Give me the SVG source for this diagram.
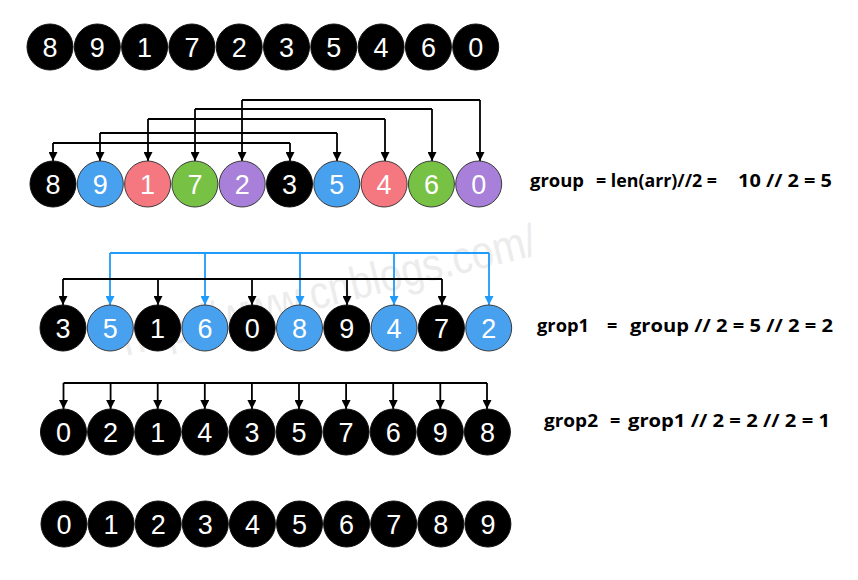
<svg xmlns="http://www.w3.org/2000/svg" width="858" height="580" viewBox="0 0 858 580">
<defs>
<style>
.bk{fill:#000;stroke:#111;stroke-width:1}
.bl{fill:#48a1ee;stroke:#3a3a3a;stroke-width:1}
.pk{fill:#f5777f;stroke:#3a3a3a;stroke-width:1}
.gr{fill:#77c144;stroke:#3a3a3a;stroke-width:1}
.pu{fill:#a87fd9;stroke:#3a3a3a;stroke-width:1}
.n{font-family:"Liberation Sans",Arial,sans-serif;font-size:27px;fill:#fff;text-anchor:middle}
.c{fill:none;stroke:#000;stroke-width:1.8}
.cb{fill:none;stroke:#1f9bfc;stroke-width:1.8}
.ah{marker-end:url(#a)}
.ahb{marker-end:url(#ab)}
.lbl{font-family:"Open Sans","Noto Sans","Liberation Sans",sans-serif;font-weight:bold;font-size:18px;fill:#000}
.wm{font-family:"Liberation Sans",Arial,sans-serif;font-size:46px;fill:#ececec}
</style>
<marker id="a" viewBox="0 0 10 10" refX="10" refY="5" markerWidth="10" markerHeight="9" markerUnits="userSpaceOnUse" orient="auto"><path d="M0,0 L10,5 L0,10 z" fill="#000"/></marker>
<marker id="ab" viewBox="0 0 10 10" refX="10" refY="5" markerWidth="10" markerHeight="9" markerUnits="userSpaceOnUse" orient="auto"><path d="M0,0 L10,5 L0,10 z" fill="#1f9bfc"/></marker>
</defs>
<rect width="858" height="580" fill="#fff"/>
<text class="wm" x="126" y="356" transform="rotate(-13.8 126 356)" textLength="425" lengthAdjust="spacingAndGlyphs">http://www.cnblogs.com/</text>

<g id="connectors">
<path class="c" d="M53,143 H290"/>
<path class="c ah" d="M53,143 V161"/><path class="c ah" d="M290,143 V161"/>
<path class="c" d="M100,133 H337"/>
<path class="c ah" d="M100,133 V161"/><path class="c ah" d="M337,133 V161"/>
<path class="c" d="M148,119 H385"/>
<path class="c ah" d="M148,119 V161"/><path class="c ah" d="M385,119 V161"/>
<path class="c" d="M195,109 H432"/>
<path class="c ah" d="M195,109 V161"/><path class="c ah" d="M432,109 V161"/>
<path class="c" d="M242,100 H480"/>
<path class="c ah" d="M242,100 V161"/><path class="c ah" d="M480,100 V161"/>

<path class="cb" d="M110,253 H489"/>
<path class="cb ahb" d="M110,253 V305"/><path class="cb ahb" d="M205,253 V305"/><path class="cb ahb" d="M300,253 V305"/><path class="cb ahb" d="M394,253 V305"/><path class="cb ahb" d="M489,253 V305"/>
<path class="c" d="M63,279 H442"/>
<path class="c ah" d="M63,279 V305"/><path class="c ah" d="M158,279 V305"/><path class="c ah" d="M252,279 V305"/><path class="c ah" d="M347,279 V305"/><path class="c ah" d="M442,279 V305"/>

<path class="c" d="M63.5,383 H487"/>
<path class="c ah" d="M63.5,383 V409"/><path class="c ah" d="M110.6,383 V409"/><path class="c ah" d="M157.7,383 V409"/><path class="c ah" d="M204.8,383 V409"/><path class="c ah" d="M251.9,383 V409"/><path class="c ah" d="M299,383 V409"/><path class="c ah" d="M346.1,383 V409"/><path class="c ah" d="M393.2,383 V409"/><path class="c ah" d="M440.3,383 V409"/><path class="c ah" d="M487,383 V409"/>
</g>

<g id="row1">
<g id="r1n0"><circle class="bk" cx="50" cy="47" r="23"/><text class="n" x="50" y="57">8</text></g>
<g id="r1n1"><circle class="bk" cx="97.3" cy="47" r="23"/><text class="n" x="97.3" y="57">9</text></g>
<g id="r1n2"><circle class="bk" cx="144.6" cy="47" r="23"/><text class="n" x="144.6" y="57">1</text></g>
<g id="r1n3"><circle class="bk" cx="191.9" cy="47" r="23"/><text class="n" x="191.9" y="57">7</text></g>
<g id="r1n4"><circle class="bk" cx="239.2" cy="47" r="23"/><text class="n" x="239.2" y="57">2</text></g>
<g id="r1n5"><circle class="bk" cx="286.5" cy="47" r="23"/><text class="n" x="286.5" y="57">3</text></g>
<g id="r1n6"><circle class="bk" cx="333.8" cy="47" r="23"/><text class="n" x="333.8" y="57">5</text></g>
<g id="r1n7"><circle class="bk" cx="381.1" cy="47" r="23"/><text class="n" x="381.1" y="57">4</text></g>
<g id="r1n8"><circle class="bk" cx="428.4" cy="47" r="23"/><text class="n" x="428.4" y="57">6</text></g>
<g id="r1n9"><circle class="bk" cx="475.7" cy="47" r="23"/><text class="n" x="475.7" y="57">0</text></g>
</g>

<g id="row2">
<g id="r2n0"><circle class="bk" cx="53" cy="184" r="23"/><text class="n" x="53" y="194">8</text></g>
<g id="r2n1"><circle class="bl" cx="100.3" cy="184" r="23"/><text class="n" x="100.3" y="194">9</text></g>
<g id="r2n2"><circle class="pk" cx="147.6" cy="184" r="23"/><text class="n" x="147.6" y="194">1</text></g>
<g id="r2n3"><circle class="gr" cx="194.9" cy="184" r="23"/><text class="n" x="194.9" y="194">7</text></g>
<g id="r2n4"><circle class="pu" cx="242.2" cy="184" r="23"/><text class="n" x="242.2" y="194">2</text></g>
<g id="r2n5"><circle class="bk" cx="289.5" cy="184" r="23"/><text class="n" x="289.5" y="194">3</text></g>
<g id="r2n6"><circle class="bl" cx="336.8" cy="184" r="23"/><text class="n" x="336.8" y="194">5</text></g>
<g id="r2n7"><circle class="pk" cx="384.1" cy="184" r="23"/><text class="n" x="384.1" y="194">4</text></g>
<g id="r2n8"><circle class="gr" cx="431.4" cy="184" r="23"/><text class="n" x="431.4" y="194">6</text></g>
<g id="r2n9"><circle class="pu" cx="478.7" cy="184" r="23"/><text class="n" x="478.7" y="194">0</text></g>
</g>

<g id="row3">
<g id="r3n0"><circle class="bk" cx="63" cy="328" r="23"/><text class="n" x="63" y="338">3</text></g>
<g id="r3n1"><circle class="bl" cx="110.3" cy="328" r="23"/><text class="n" x="110.3" y="338">5</text></g>
<g id="r3n2"><circle class="bk" cx="157.6" cy="328" r="23"/><text class="n" x="157.6" y="338">1</text></g>
<g id="r3n3"><circle class="bl" cx="204.9" cy="328" r="23"/><text class="n" x="204.9" y="338">6</text></g>
<g id="r3n4"><circle class="bk" cx="252.2" cy="328" r="23"/><text class="n" x="252.2" y="338">0</text></g>
<g id="r3n5"><circle class="bl" cx="299.5" cy="328" r="23"/><text class="n" x="299.5" y="338">8</text></g>
<g id="r3n6"><circle class="bk" cx="346.8" cy="328" r="23"/><text class="n" x="346.8" y="338">9</text></g>
<g id="r3n7"><circle class="bl" cx="394.1" cy="328" r="23"/><text class="n" x="394.1" y="338">4</text></g>
<g id="r3n8"><circle class="bk" cx="441.4" cy="328" r="23"/><text class="n" x="441.4" y="338">7</text></g>
<g id="r3n9"><circle class="bl" cx="488.7" cy="328" r="23"/><text class="n" x="488.7" y="338">2</text></g>
</g>

<g id="row4">
<g id="r4n0"><circle class="bk" cx="63.5" cy="432" r="23"/><text class="n" x="63.5" y="442">0</text></g>
<g id="r4n1"><circle class="bk" cx="110.6" cy="432" r="23"/><text class="n" x="110.6" y="442">2</text></g>
<g id="r4n2"><circle class="bk" cx="157.7" cy="432" r="23"/><text class="n" x="157.7" y="442">1</text></g>
<g id="r4n3"><circle class="bk" cx="204.8" cy="432" r="23"/><text class="n" x="204.8" y="442">4</text></g>
<g id="r4n4"><circle class="bk" cx="251.9" cy="432" r="23"/><text class="n" x="251.9" y="442">3</text></g>
<g id="r4n5"><circle class="bk" cx="299" cy="432" r="23"/><text class="n" x="299" y="442">5</text></g>
<g id="r4n6"><circle class="bk" cx="346.1" cy="432" r="23"/><text class="n" x="346.1" y="442">7</text></g>
<g id="r4n7"><circle class="bk" cx="393.2" cy="432" r="23"/><text class="n" x="393.2" y="442">6</text></g>
<g id="r4n8"><circle class="bk" cx="440.3" cy="432" r="23"/><text class="n" x="440.3" y="442">9</text></g>
<g id="r4n9"><circle class="bk" cx="487.4" cy="432" r="23"/><text class="n" x="487.4" y="442">8</text></g>
</g>

<g id="row5">
<g id="r5n0"><circle class="bk" cx="64" cy="524" r="23"/><text class="n" x="64" y="534">0</text></g>
<g id="r5n1"><circle class="bk" cx="111.1" cy="524" r="23"/><text class="n" x="111.1" y="534">1</text></g>
<g id="r5n2"><circle class="bk" cx="158.2" cy="524" r="23"/><text class="n" x="158.2" y="534">2</text></g>
<g id="r5n3"><circle class="bk" cx="205.3" cy="524" r="23"/><text class="n" x="205.3" y="534">3</text></g>
<g id="r5n4"><circle class="bk" cx="252.4" cy="524" r="23"/><text class="n" x="252.4" y="534">4</text></g>
<g id="r5n5"><circle class="bk" cx="299.5" cy="524" r="23"/><text class="n" x="299.5" y="534">5</text></g>
<g id="r5n6"><circle class="bk" cx="346.6" cy="524" r="23"/><text class="n" x="346.6" y="534">6</text></g>
<g id="r5n7"><circle class="bk" cx="393.7" cy="524" r="23"/><text class="n" x="393.7" y="534">7</text></g>
<g id="r5n8"><circle class="bk" cx="440.8" cy="524" r="23"/><text class="n" x="440.8" y="534">8</text></g>
<g id="r5n9"><circle class="bk" cx="487.9" cy="524" r="23"/><text class="n" x="487.9" y="534">9</text></g>
</g>

<g id="labels">
<g id="label1">
<text class="lbl" x="530" y="187" textLength="54" lengthAdjust="spacingAndGlyphs">group</text>
<text class="lbl" x="596" y="187" textLength="121" lengthAdjust="spacingAndGlyphs">= len(arr)//2 =</text>
<text class="lbl" x="738" y="187" textLength="94" lengthAdjust="spacingAndGlyphs">10 // 2 = 5</text>
</g>
<g id="label2">
<text class="lbl" x="537" y="332" textLength="52" lengthAdjust="spacingAndGlyphs">grop1</text>
<text class="lbl" x="607" y="332">=</text>
<text class="lbl" x="630" y="332" textLength="203" lengthAdjust="spacingAndGlyphs">group // 2 = 5 // 2 = 2</text>
</g>
<g id="label3">
<text class="lbl" x="544" y="427" textLength="54" lengthAdjust="spacingAndGlyphs">grop2</text>
<text class="lbl" x="610" y="427">=</text>
<text class="lbl" x="628" y="427" textLength="202" lengthAdjust="spacingAndGlyphs">grop1 // 2 = 2 // 2 = 1</text>
</g>
</g>
</svg>
